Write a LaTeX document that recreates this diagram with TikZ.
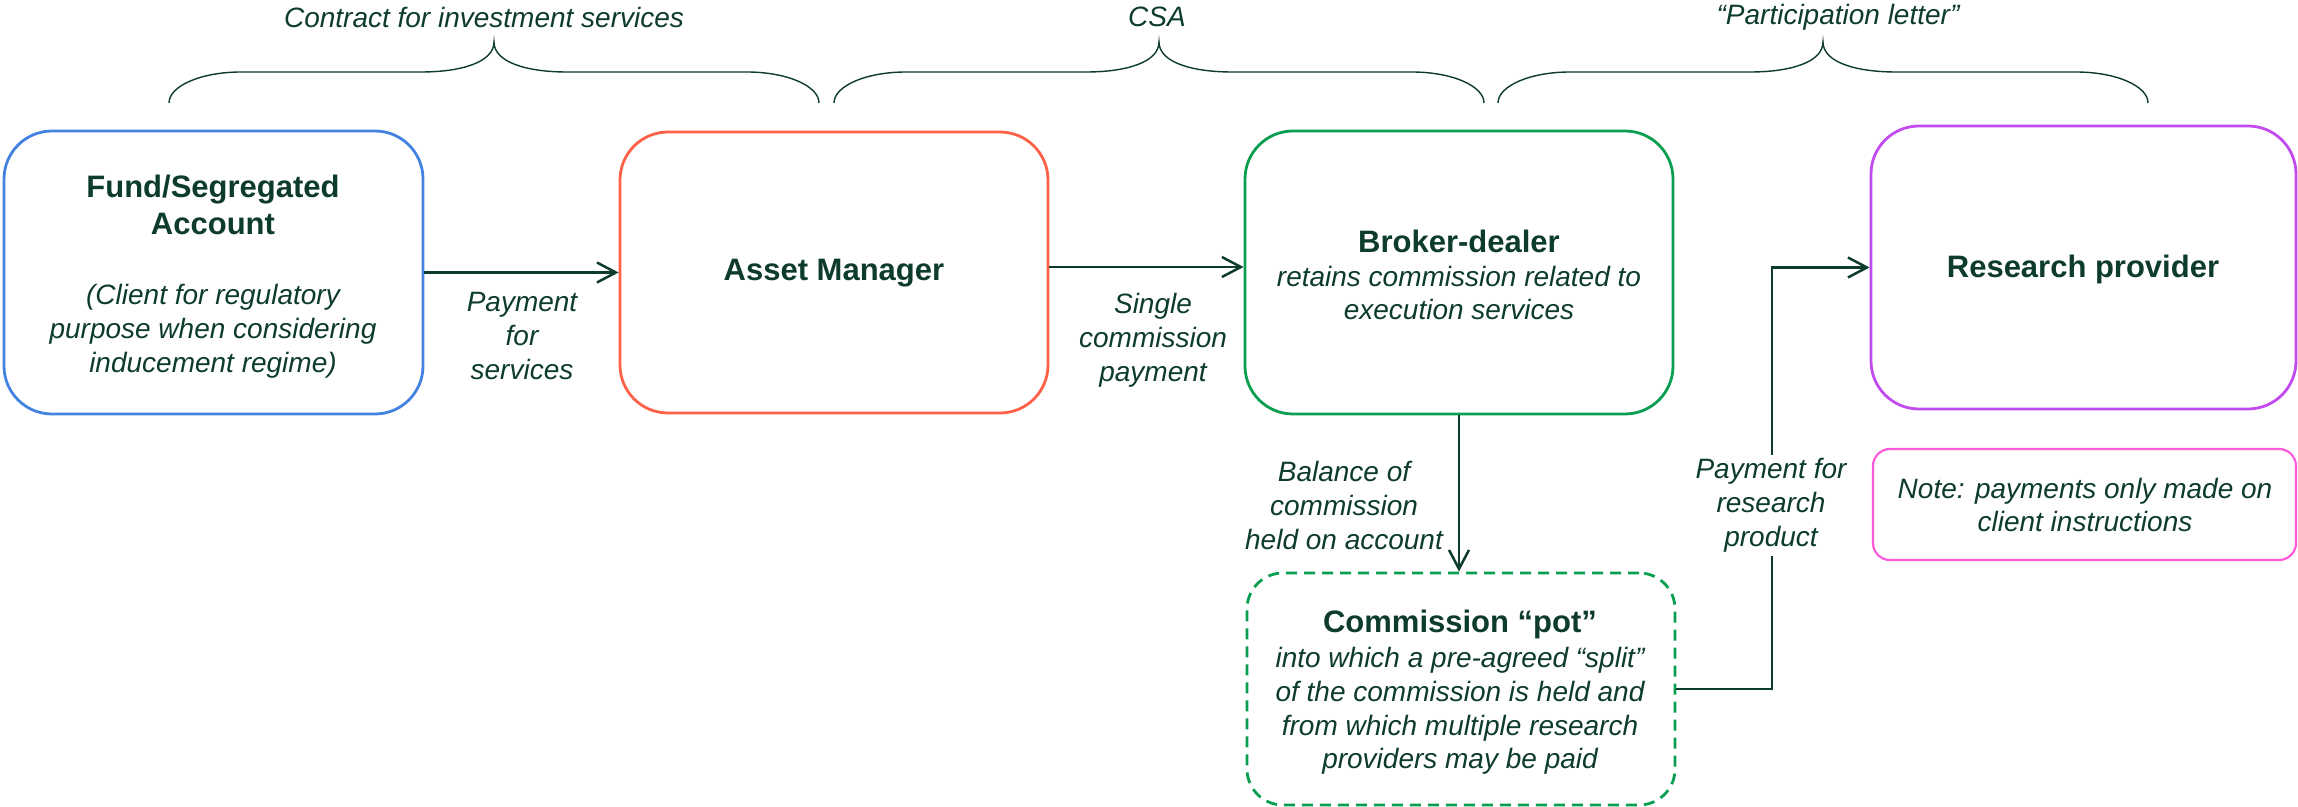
\documentclass[tikz,border=0pt]{standalone}
\usepackage{fontspec}
\setmainfont{Liberation Sans}
\usetikzlibrary{arrows.meta,calc}

\definecolor{ink}{HTML}{0D3B2E}
\definecolor{fundblue}{HTML}{4382E0}
\definecolor{amred}{HTML}{FF6148}
\definecolor{bdgreen}{HTML}{0A9E50}
\definecolor{rppurple}{HTML}{C24BEF}
\definecolor{notepink}{HTML}{FF5AD9}

\tikzset{
  box/.style={draw, line width=1.4pt, rounded corners=24pt, inner sep=0pt},
  title/.style={font=\fontsize{15.5}{18.5}\selectfont\bfseries, text=ink, align=center, inner sep=0pt},
  body/.style={font=\fontsize{14}{16.9}\selectfont\itshape, text=ink, align=center, inner sep=0pt},
  flow/.style={draw=ink, line width=1.25pt, -{Straight Barb[length=9.5pt,width=10pt]}},
  bracepath/.style={draw=ink, line width=0.7pt},
}

\begin{document}
\begin{tikzpicture}[x=0.5pt,y=-0.5pt]
\useasboundingbox (0,0) rectangle (2298,807);

% parties
\node[box, draw=fundblue, minimum width=209.5pt, minimum height=141.5pt] (fund) at (213.5,272.5) {};
\node[box, draw=amred, minimum width=214pt, minimum height=140.5pt] (am) at (834,272.5) {};
\node[box, draw=bdgreen, minimum width=214pt, minimum height=141.5pt] (bd) at (1459,272.5) {};
\node[box, draw=rppurple, minimum width=212.5pt, minimum height=141.5pt] (rp) at (2083.5,267.5) {};
\node[box, draw=bdgreen, dash pattern=on 5.5pt off 3.5pt, rounded corners=18pt,
      minimum width=214pt, minimum height=116pt] (pot) at (1461,689) {};
\node[box, draw=notepink, line width=1.1pt, rounded corners=8.5pt,
      minimum width=211.5pt, minimum height=55.5pt] (note) at (2084.5,504.5) {};

% box texts
\node[title] (fundtitle) at (213,204.5) {Fund/Segregated\\Account};
\node[body] (fundbody) at (213,331.5) {(Client for regulatory\\purpose when considering\\inducement regime)};
\node[title] (amtitle) at (834,273) {Asset Manager};
\node[title] (bdtitle) at (1459,241) {Broker-dealer};
\node[body] (bdbody) at (1459,293) {retains commission related to\\execution services};
\node[title] (rptitle) at (2083,269) {Research provider};
\node[title] (pottitle) at (1460,624) {Commission “pot”};
\node[body] (potbody) at (1460,711) {into which a pre-agreed “split”\\of the commission is held and\\from which multiple research\\providers may be paid};
\node[body] (notetext) at (2085,505) {Note: payments only made on\\client instructions};

% agreements
\foreach \l/\r/\nm in {169/819/one, 834/1484/two, 1498/2148/three}{
  \pgfmathsetmacro{\c}{(\l+\r)/2}
  \draw[bracepath] (\l,103) .. controls (\l,86) and (\l+32,72) .. (\l+72,72)
    -- (\c-73,72) .. controls (\c-32,72) and (\c,62) .. (\c,42)
    .. controls (\c,62) and (\c+32,72) .. (\c+73,72)
    -- (\r-72,72) .. controls (\r-32,72) and (\r,86) .. (\r,103);
}
\node[body] (agr1) at (484,17) {Contract for investment services};
\node[body] (agr2) at (1157,17) {CSA};
\node[body] (agr3) at (1838,17) {“Participation letter”};

% payment flows
\draw[flow] (fund) -- (am);
\draw[flow] ([yshift=2.75pt]am.east) -- ([yshift=2.75pt]bd.west);
\draw[flow] (bd.south) -- (bd.south |- pot.north);
\coordinate (tx) at (1772,267);
\draw[flow] (pot.east) -- (pot.east -| tx) -- (tx |- rp.west) -- (rp.west);

% flow labels
\node[body] (lblpay) at (522,336) {Payment\\for\\services};
\node[body] (lblsingle) at (1153,340) {Single\\commission\\payment};
\node[body] (lblbalance) at (1344,505.5) {Balance of\\commission\\held on account};
\node[body, fill=white, inner xsep=4pt, inner ysep=2pt] (lblresearch) at (1771,505.5) {Payment for\\research\\product};
\end{tikzpicture}
\end{document}
